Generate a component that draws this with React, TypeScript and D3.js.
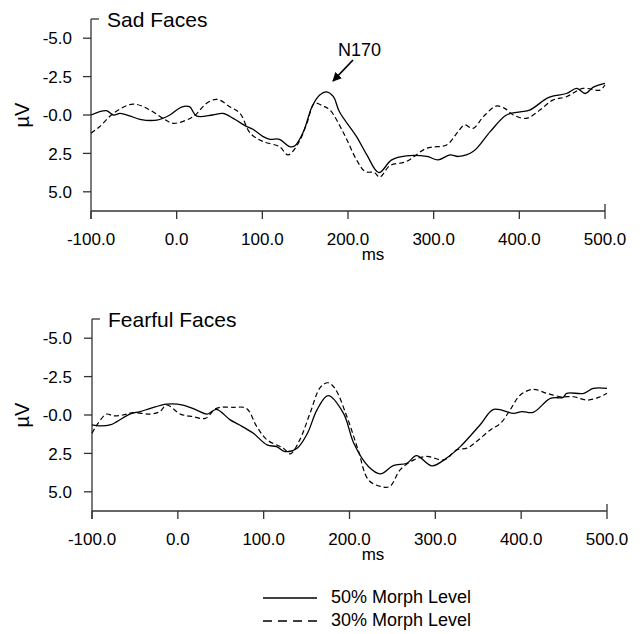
import React from 'react';
import * as d3 from 'd3';

// [ms, µV] samples (negative is up)
const sadSolid: [number, number][] = [
  [-100, 0], [-82, -0.28], [-74, 0], [-66, -0.1], [-55, 0.05], [-43, 0.28], [-23, 0.33], [-8, 0],
  [5, -0.5], [15, -0.54], [23, 0.06], [42, 0], [54, -0.1], [66, 0.22], [82, 0.76], [89, 0.93],
  [101, 1.41], [109, 1.58], [120, 1.58], [132, 2.06], [138, 2.0], [148, 1.08], [158, -0.54],
  [167, -1.3], [175, -1.51], [183, -1.19], [190, -0.21], [210, 1.41], [222, 2.6], [236, 3.75],
  [251, 2.92], [268, 2.66], [292, 2.7], [305, 2.92], [319, 2.6], [329, 2.7], [346, 2.38],
  [366, 1.08], [385, 0], [401, -0.21], [412, -0.32], [432, -1.08], [439, -1.23], [455, -1.4],
  [467, -1.73], [477, -1.4], [486, -1.8], [500, -2.06],
];
const sadDashed: [number, number][] = [
  [-100, 1.19], [-90, 0.76], [-74, -0.1], [-51, -0.71], [-31, -0.32], [-16, 0.22], [-4, 0.54],
  [19, 0.11], [35, -0.76], [47, -1.02], [62, -0.54], [74, -0.1], [86, 1.19], [101, 1.73],
  [120, 2.06], [130, 2.6], [142, 1.84], [152, 0.54], [161, -0.76], [171, -0.58], [179, -0.32],
  [195, 1.19], [210, 2.92], [220, 3.68], [231, 3.75], [237, 4.05], [249, 3.29], [268, 3.03],
  [292, 2.16], [315, 1.95], [327, 1.19], [336, 0.65], [346, 0.87], [358, 0.11], [373, -0.58],
  [383, -0.43], [393, 0], [408, 0.22], [424, -0.32], [439, -0.97], [455, -1.19], [474, -1.73],
  [494, -1.62], [500, -1.95],
];
const fearSolid: [number, number][] = [
  [-100, 0.65], [-91, 0.71], [-79, 0.65], [-71, 0.43], [-56, -0.06], [-44, -0.22], [-32, -0.43],
  [-13, -0.71], [6, -0.65], [22, -0.32], [34, -0.06], [45, -0.37], [61, 0.32], [72, 0.65],
  [88, 1.19], [104, 1.95], [115, 2.06], [125, 2.38], [139, 2.16], [151, 1.19], [162, -0.32],
  [175, -1.26], [193, -0.11], [205, 1.84], [222, 3.35], [236, 3.83], [251, 3.29], [267, 3.14],
  [278, 2.64], [296, 3.31], [313, 2.81], [329, 2.06], [352, 0.65], [368, -0.37], [391, -0.11],
  [401, -0.22], [414, -0.17], [434, -1.08], [449, -1.15], [453, -1.41], [473, -1.41],
  [484, -1.73], [500, -1.73],
];
const fearDashed: [number, number][] = [
  [-100, 1.19], [-93, 0.54], [-83, -0.06], [-75, 0.06], [-64, 0], [-52, -0.15], [-32, -0.06],
  [-21, -0.22], [-13, -0.65], [3, -0.06], [18, 0.11], [32, 0.22], [45, -0.43], [65, -0.5],
  [80, -0.43], [92, 0.76], [104, 1.62], [123, 2.16], [131, 2.53], [142, 1.62], [154, -0.11],
  [166, -1.8], [175, -2.1], [183, -1.73], [197, 0.11], [210, 2.27], [222, 4.22], [236, 4.65],
  [247, 4.65], [259, 3.57], [275, 2.92], [290, 2.7], [310, 2.92], [325, 2.27], [337, 2.16],
  [348, 1.73], [364, 0.97], [376, 0.54], [387, -0.32], [399, -1.3], [414, -1.67], [430, -1.41],
  [446, -1.19], [461, -1.19], [477, -0.97], [492, -1.19], [500, -1.41],
];

const xTicks = [-100, 0, 100, 200, 300, 400, 500];
const yTicks = [-5, -2.5, 0, 2.5, 5];
const yTickLabels = ['-5.0', '-2.5', '-0.0', '2.5', '5.0'];
const legendLabels = ['50% Morph Level', '30% Morph Level'];

const FONT = '"Liberation Sans", Arial, Helvetica, sans-serif';

type PanelProps = {
  title: string;
  top: number;
  left: number;
  right: number;
  solid: [number, number][];
  dashed: [number, number][];
  children?: React.ReactNode;
};

function Panel({ title, top, left, right, solid, dashed, children }: PanelProps) {
  const bottom = top + 192;
  const x = d3.scaleLinear().domain([-100, 500]).range([left, right]);
  const y = d3.scaleLinear().domain([-6.25, 6.25]).range([top, bottom]);
  const line = d3
    .line<[number, number]>()
    .x((d) => x(d[0]))
    .y((d) => y(d[1]))
    .curve(d3.curveCatmullRom.alpha(0.5));
  const axisColor = '#333';

  return (
    <g fontFamily={FONT}>
      {/* y axis */}
      <line x1={left} x2={left} y1={top} y2={bottom + 8} stroke={axisColor} strokeWidth={1.3} />
      <line x1={left} x2={left + 8} y1={top} y2={top} stroke={axisColor} strokeWidth={1.3} />
      {yTicks.map((t, i) => (
        <g key={t}>
          <line x1={left - 8} x2={left} y1={y(t)} y2={y(t)} stroke={axisColor} strokeWidth={1.3} />
          <text x={72} y={y(t)} dy="0.36em" textAnchor="end" fontSize={17}>
            {yTickLabels[i]}
          </text>
        </g>
      ))}
      <text
        transform={`translate(29, ${y(0)}) rotate(-90)`}
        textAnchor="middle"
        fontSize={20}
      >
        µV
      </text>

      {/* x axis */}
      <line x1={left} x2={right} y1={bottom} y2={bottom} stroke={axisColor} strokeWidth={1.3} />
      {xTicks.map((t) => (
        <g key={t}>
          <line
            x1={x(t)}
            x2={x(t)}
            y1={t === 500 ? bottom - 7 : bottom}
            y2={bottom + 8}
            stroke={axisColor}
            strokeWidth={1.3}
          />
          <text x={x(t)} y={bottom + 34} textAnchor="middle" fontSize={17}>
            {t.toFixed(1)}
          </text>
        </g>
      ))}
      <text x={373} y={bottom + 49} textAnchor="middle" fontSize={17}>
        ms
      </text>

      <text x={left + 16} y={top + 8} fontSize={21}>
        {title}
      </text>

      <path d={line(solid) ?? ''} fill="none" stroke="#000" strokeWidth={1.3} />
      <path d={line(dashed) ?? ''} fill="none" stroke="#000" strokeWidth={1.2} strokeDasharray="5,3" />
      {children}
    </g>
  );
}

export default function App() {
  return (
    <svg width={644} height={634} style={{ position: 'absolute', left: 0, top: 0, background: '#fff' }}>
      <defs>
        <marker id="arrow" viewBox="0 0 10 10" refX="9" refY="5" markerWidth="5" markerHeight="5" orient="auto">
          <path d="M0,0 L10,5 L0,10 z" fill="#000" />
        </marker>
      </defs>
      <Panel title="Sad Faces" top={19} left={91} right={605} solid={sadSolid} dashed={sadDashed}>
        <text x={338} y={56} fontSize={18} fontFamily={FONT}>
          N170
        </text>
        <line x1={353} y1={60} x2={333} y2={81} stroke="#000" strokeWidth={1.8} markerEnd="url(#arrow)" />
      </Panel>
      <Panel title="Fearful Faces" top={319} left={92} right={607} solid={fearSolid} dashed={fearDashed} />

      {/* legend */}
      <g fontFamily={FONT} fontSize={18}>
        <line x1={263} x2={317} y1={598} y2={598} stroke="#000" strokeWidth={1.6} />
        <text x={331} y={603}>{legendLabels[0]}</text>
        <line x1={263} x2={317} y1={621} y2={621} stroke="#000" strokeWidth={1.6} strokeDasharray="9,6" />
        <text x={331} y={626}>{legendLabels[1]}</text>
      </g>
    </svg>
  );
}
